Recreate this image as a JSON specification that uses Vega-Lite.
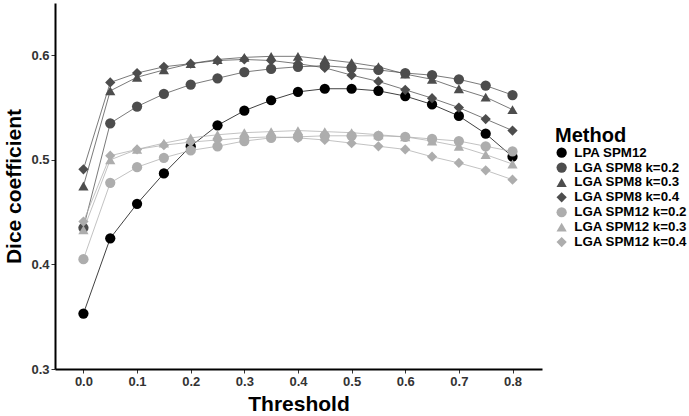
{
  "$schema": "https://vega.github.io/schema/vega-lite/v6.json",
  "width": 487,
  "height": 366,
  "autosize": {"type": "none"},
  "padding": {"left": 55, "top": 3, "right": 147, "bottom": 47},
  "background": "white",
  "config": {
    "view": {"stroke": null},
    "font": "Liberation Sans",
    "axis": {
      "grid": false,
      "domainColor": "#000000",
      "domainWidth": 2,
      "tickColor": "#333333",
      "tickSize": 4,
      "tickWidth": 1,
      "labelFont": "Liberation Sans",
      "labelFontWeight": "bold",
      "labelFontSize": 13,
      "labelColor": "#333333",
      "titleFont": "Liberation Sans",
      "titleFontWeight": "bold",
      "titleFontSize": 21,
      "titleColor": "#000000"
    },
    "legend": {
      "titleFont": "Liberation Sans",
      "titleFontWeight": "bold",
      "titleFontSize": 20,
      "titleColor": "#000000",
      "titlePadding": 0.5,
      "labelFont": "Liberation Sans",
      "labelFontWeight": "bold",
      "labelFontSize": 13.3,
      "labelColor": "#000000",
      "labelOffset": 6,
      "rowPadding": 0.9,
      "symbolStrokeWidth": 0
    }
  },
  "data": {
    "values": [
      {"Method": "LPA SPM12", "Threshold": 0.0, "Dice": 0.353},
      {"Method": "LPA SPM12", "Threshold": 0.05, "Dice": 0.425},
      {"Method": "LPA SPM12", "Threshold": 0.1, "Dice": 0.458},
      {"Method": "LPA SPM12", "Threshold": 0.15, "Dice": 0.487},
      {"Method": "LPA SPM12", "Threshold": 0.2, "Dice": 0.513},
      {"Method": "LPA SPM12", "Threshold": 0.25, "Dice": 0.533},
      {"Method": "LPA SPM12", "Threshold": 0.3, "Dice": 0.547},
      {"Method": "LPA SPM12", "Threshold": 0.35, "Dice": 0.557},
      {"Method": "LPA SPM12", "Threshold": 0.4, "Dice": 0.565},
      {"Method": "LPA SPM12", "Threshold": 0.45, "Dice": 0.568},
      {"Method": "LPA SPM12", "Threshold": 0.5, "Dice": 0.568},
      {"Method": "LPA SPM12", "Threshold": 0.55, "Dice": 0.566},
      {"Method": "LPA SPM12", "Threshold": 0.6, "Dice": 0.561},
      {"Method": "LPA SPM12", "Threshold": 0.65, "Dice": 0.553},
      {"Method": "LPA SPM12", "Threshold": 0.7, "Dice": 0.542},
      {"Method": "LPA SPM12", "Threshold": 0.75, "Dice": 0.525},
      {"Method": "LPA SPM12", "Threshold": 0.8, "Dice": 0.503},
      {"Method": "LGA SPM8 k=0.2", "Threshold": 0.0, "Dice": 0.435},
      {"Method": "LGA SPM8 k=0.2", "Threshold": 0.05, "Dice": 0.535},
      {"Method": "LGA SPM8 k=0.2", "Threshold": 0.1, "Dice": 0.551},
      {"Method": "LGA SPM8 k=0.2", "Threshold": 0.15, "Dice": 0.563},
      {"Method": "LGA SPM8 k=0.2", "Threshold": 0.2, "Dice": 0.572},
      {"Method": "LGA SPM8 k=0.2", "Threshold": 0.25, "Dice": 0.578},
      {"Method": "LGA SPM8 k=0.2", "Threshold": 0.3, "Dice": 0.584},
      {"Method": "LGA SPM8 k=0.2", "Threshold": 0.35, "Dice": 0.587},
      {"Method": "LGA SPM8 k=0.2", "Threshold": 0.4, "Dice": 0.589},
      {"Method": "LGA SPM8 k=0.2", "Threshold": 0.45, "Dice": 0.59},
      {"Method": "LGA SPM8 k=0.2", "Threshold": 0.5, "Dice": 0.588},
      {"Method": "LGA SPM8 k=0.2", "Threshold": 0.55, "Dice": 0.586},
      {"Method": "LGA SPM8 k=0.2", "Threshold": 0.6, "Dice": 0.583},
      {"Method": "LGA SPM8 k=0.2", "Threshold": 0.65, "Dice": 0.581},
      {"Method": "LGA SPM8 k=0.2", "Threshold": 0.7, "Dice": 0.577},
      {"Method": "LGA SPM8 k=0.2", "Threshold": 0.75, "Dice": 0.571},
      {"Method": "LGA SPM8 k=0.2", "Threshold": 0.8, "Dice": 0.562},
      {"Method": "LGA SPM8 k=0.3", "Threshold": 0.0, "Dice": 0.475},
      {"Method": "LGA SPM8 k=0.3", "Threshold": 0.05, "Dice": 0.566},
      {"Method": "LGA SPM8 k=0.3", "Threshold": 0.1, "Dice": 0.579},
      {"Method": "LGA SPM8 k=0.3", "Threshold": 0.15, "Dice": 0.586},
      {"Method": "LGA SPM8 k=0.3", "Threshold": 0.2, "Dice": 0.592},
      {"Method": "LGA SPM8 k=0.3", "Threshold": 0.25, "Dice": 0.596},
      {"Method": "LGA SPM8 k=0.3", "Threshold": 0.3, "Dice": 0.598},
      {"Method": "LGA SPM8 k=0.3", "Threshold": 0.35, "Dice": 0.599},
      {"Method": "LGA SPM8 k=0.3", "Threshold": 0.4, "Dice": 0.599},
      {"Method": "LGA SPM8 k=0.3", "Threshold": 0.45, "Dice": 0.596},
      {"Method": "LGA SPM8 k=0.3", "Threshold": 0.5, "Dice": 0.593},
      {"Method": "LGA SPM8 k=0.3", "Threshold": 0.55, "Dice": 0.589},
      {"Method": "LGA SPM8 k=0.3", "Threshold": 0.6, "Dice": 0.582},
      {"Method": "LGA SPM8 k=0.3", "Threshold": 0.65, "Dice": 0.577},
      {"Method": "LGA SPM8 k=0.3", "Threshold": 0.7, "Dice": 0.568},
      {"Method": "LGA SPM8 k=0.3", "Threshold": 0.75, "Dice": 0.56},
      {"Method": "LGA SPM8 k=0.3", "Threshold": 0.8, "Dice": 0.548},
      {"Method": "LGA SPM8 k=0.4", "Threshold": 0.0, "Dice": 0.491},
      {"Method": "LGA SPM8 k=0.4", "Threshold": 0.05, "Dice": 0.574},
      {"Method": "LGA SPM8 k=0.4", "Threshold": 0.1, "Dice": 0.583},
      {"Method": "LGA SPM8 k=0.4", "Threshold": 0.15, "Dice": 0.589},
      {"Method": "LGA SPM8 k=0.4", "Threshold": 0.2, "Dice": 0.592},
      {"Method": "LGA SPM8 k=0.4", "Threshold": 0.25, "Dice": 0.595},
      {"Method": "LGA SPM8 k=0.4", "Threshold": 0.3, "Dice": 0.596},
      {"Method": "LGA SPM8 k=0.4", "Threshold": 0.35, "Dice": 0.595},
      {"Method": "LGA SPM8 k=0.4", "Threshold": 0.4, "Dice": 0.592},
      {"Method": "LGA SPM8 k=0.4", "Threshold": 0.45, "Dice": 0.588},
      {"Method": "LGA SPM8 k=0.4", "Threshold": 0.5, "Dice": 0.581},
      {"Method": "LGA SPM8 k=0.4", "Threshold": 0.55, "Dice": 0.575},
      {"Method": "LGA SPM8 k=0.4", "Threshold": 0.6, "Dice": 0.567},
      {"Method": "LGA SPM8 k=0.4", "Threshold": 0.65, "Dice": 0.559},
      {"Method": "LGA SPM8 k=0.4", "Threshold": 0.7, "Dice": 0.55},
      {"Method": "LGA SPM8 k=0.4", "Threshold": 0.75, "Dice": 0.539},
      {"Method": "LGA SPM8 k=0.4", "Threshold": 0.8, "Dice": 0.528},
      {"Method": "LGA SPM12 k=0.2", "Threshold": 0.0, "Dice": 0.405},
      {"Method": "LGA SPM12 k=0.2", "Threshold": 0.05, "Dice": 0.478},
      {"Method": "LGA SPM12 k=0.2", "Threshold": 0.1, "Dice": 0.493},
      {"Method": "LGA SPM12 k=0.2", "Threshold": 0.15, "Dice": 0.502},
      {"Method": "LGA SPM12 k=0.2", "Threshold": 0.2, "Dice": 0.509},
      {"Method": "LGA SPM12 k=0.2", "Threshold": 0.25, "Dice": 0.513},
      {"Method": "LGA SPM12 k=0.2", "Threshold": 0.3, "Dice": 0.518},
      {"Method": "LGA SPM12 k=0.2", "Threshold": 0.35, "Dice": 0.521},
      {"Method": "LGA SPM12 k=0.2", "Threshold": 0.4, "Dice": 0.522},
      {"Method": "LGA SPM12 k=0.2", "Threshold": 0.45, "Dice": 0.523},
      {"Method": "LGA SPM12 k=0.2", "Threshold": 0.5, "Dice": 0.523},
      {"Method": "LGA SPM12 k=0.2", "Threshold": 0.55, "Dice": 0.523},
      {"Method": "LGA SPM12 k=0.2", "Threshold": 0.6, "Dice": 0.522},
      {"Method": "LGA SPM12 k=0.2", "Threshold": 0.65, "Dice": 0.52},
      {"Method": "LGA SPM12 k=0.2", "Threshold": 0.7, "Dice": 0.518},
      {"Method": "LGA SPM12 k=0.2", "Threshold": 0.75, "Dice": 0.513},
      {"Method": "LGA SPM12 k=0.2", "Threshold": 0.8, "Dice": 0.508},
      {"Method": "LGA SPM12 k=0.3", "Threshold": 0.0, "Dice": 0.433},
      {"Method": "LGA SPM12 k=0.3", "Threshold": 0.05, "Dice": 0.5},
      {"Method": "LGA SPM12 k=0.3", "Threshold": 0.1, "Dice": 0.51},
      {"Method": "LGA SPM12 k=0.3", "Threshold": 0.15, "Dice": 0.516},
      {"Method": "LGA SPM12 k=0.3", "Threshold": 0.2, "Dice": 0.521},
      {"Method": "LGA SPM12 k=0.3", "Threshold": 0.25, "Dice": 0.524},
      {"Method": "LGA SPM12 k=0.3", "Threshold": 0.3, "Dice": 0.526},
      {"Method": "LGA SPM12 k=0.3", "Threshold": 0.35, "Dice": 0.527},
      {"Method": "LGA SPM12 k=0.3", "Threshold": 0.4, "Dice": 0.528},
      {"Method": "LGA SPM12 k=0.3", "Threshold": 0.45, "Dice": 0.527},
      {"Method": "LGA SPM12 k=0.3", "Threshold": 0.5, "Dice": 0.526},
      {"Method": "LGA SPM12 k=0.3", "Threshold": 0.55, "Dice": 0.524},
      {"Method": "LGA SPM12 k=0.3", "Threshold": 0.6, "Dice": 0.522},
      {"Method": "LGA SPM12 k=0.3", "Threshold": 0.65, "Dice": 0.518},
      {"Method": "LGA SPM12 k=0.3", "Threshold": 0.7, "Dice": 0.513},
      {"Method": "LGA SPM12 k=0.3", "Threshold": 0.75, "Dice": 0.505},
      {"Method": "LGA SPM12 k=0.3", "Threshold": 0.8, "Dice": 0.496},
      {"Method": "LGA SPM12 k=0.4", "Threshold": 0.0, "Dice": 0.441},
      {"Method": "LGA SPM12 k=0.4", "Threshold": 0.05, "Dice": 0.504},
      {"Method": "LGA SPM12 k=0.4", "Threshold": 0.1, "Dice": 0.51},
      {"Method": "LGA SPM12 k=0.4", "Threshold": 0.15, "Dice": 0.514},
      {"Method": "LGA SPM12 k=0.4", "Threshold": 0.2, "Dice": 0.517},
      {"Method": "LGA SPM12 k=0.4", "Threshold": 0.25, "Dice": 0.519},
      {"Method": "LGA SPM12 k=0.4", "Threshold": 0.3, "Dice": 0.521},
      {"Method": "LGA SPM12 k=0.4", "Threshold": 0.35, "Dice": 0.522},
      {"Method": "LGA SPM12 k=0.4", "Threshold": 0.4, "Dice": 0.521},
      {"Method": "LGA SPM12 k=0.4", "Threshold": 0.45, "Dice": 0.519},
      {"Method": "LGA SPM12 k=0.4", "Threshold": 0.5, "Dice": 0.516},
      {"Method": "LGA SPM12 k=0.4", "Threshold": 0.55, "Dice": 0.513},
      {"Method": "LGA SPM12 k=0.4", "Threshold": 0.6, "Dice": 0.51},
      {"Method": "LGA SPM12 k=0.4", "Threshold": 0.65, "Dice": 0.503},
      {"Method": "LGA SPM12 k=0.4", "Threshold": 0.7, "Dice": 0.497},
      {"Method": "LGA SPM12 k=0.4", "Threshold": 0.75, "Dice": 0.49},
      {"Method": "LGA SPM12 k=0.4", "Threshold": 0.8, "Dice": 0.481}
    ]
  },
  "encoding": {
    "x": {
      "field": "Threshold",
      "type": "quantitative",
      "scale": {"domain": [-0.053, 0.855], "nice": false, "zero": false},
      "axis": {"values": [0, 0.1, 0.2, 0.3, 0.4, 0.5, 0.6, 0.7, 0.8], "format": ".1f", "title": "Threshold", "labelPadding": 2, "titlePadding": 5}
    },
    "y": {
      "field": "Dice",
      "type": "quantitative",
      "scale": {"domain": [0.3, 0.65], "nice": false, "zero": false},
      "axis": {"values": [0.3, 0.4, 0.5, 0.6], "format": ".1f", "title": "Dice coefficient", "labelPadding": 2, "titlePadding": 6}
    },
    "color": {
      "field": "Method",
      "type": "nominal",
      "scale": {
        "domain": ["LPA SPM12", "LGA SPM8 k=0.2", "LGA SPM8 k=0.3", "LGA SPM8 k=0.4", "LGA SPM12 k=0.2", "LGA SPM12 k=0.3", "LGA SPM12 k=0.4"],
        "range": ["#000000", "#4d4d4d", "#4d4d4d", "#4d4d4d", "#adadad", "#adadad", "#adadad"]
      },
      "legend": {"title": "Method", "orient": "none", "legendX": 500, "legendY": 122.5}
    }
  },
  "layer": [
    {
      "mark": {"type": "line", "strokeWidth": 1, "strokeOpacity": 0.75},
      "encoding": {
        "detail": {"field": "Method", "type": "nominal"}
      }
    },
    {
      "mark": {"type": "point", "filled": true, "opacity": 1},
      "encoding": {
        "shape": {
          "field": "Method",
          "type": "nominal",
          "scale": {
            "domain": ["LPA SPM12", "LGA SPM8 k=0.2", "LGA SPM8 k=0.3", "LGA SPM8 k=0.4", "LGA SPM12 k=0.2", "LGA SPM12 k=0.3", "LGA SPM12 k=0.4"],
            "range": ["circle", "circle", "triangle-up", "diamond", "circle", "triangle-up", "diamond"]
          },
          "legend": {"title": "Method", "orient": "none", "legendX": 500, "legendY": 122.5}
        },
        "size": {
          "field": "Method",
          "type": "nominal",
          "scale": {
            "domain": ["LPA SPM12", "LGA SPM8 k=0.2", "LGA SPM8 k=0.3", "LGA SPM8 k=0.4", "LGA SPM12 k=0.2", "LGA SPM12 k=0.3", "LGA SPM12 k=0.4"],
            "range": [105, 105, 150, 90, 105, 150, 90]
          },
          "legend": {"title": "Method", "orient": "none", "legendX": 500, "legendY": 122.5}
        }
      }
    }
  ]
}
